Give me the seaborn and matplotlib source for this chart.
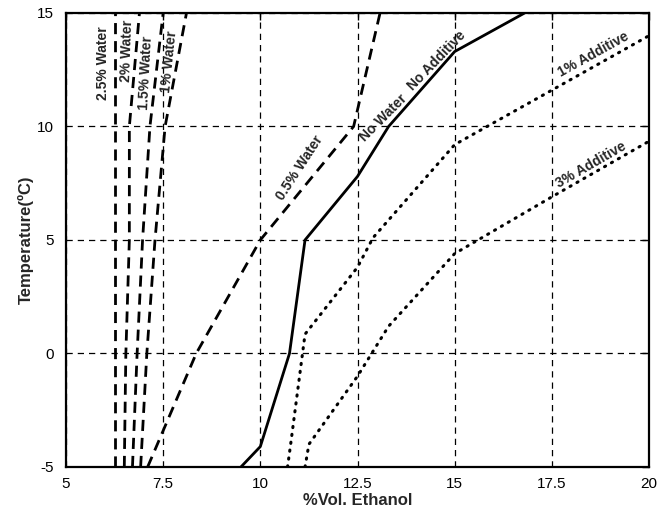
import matplotlib
matplotlib.use("Agg")
import matplotlib.pyplot as plt
import seaborn as sns

sns.set_style("white")
plt.rcParams['font.family'] = ['Liberation Sans', 'DejaVu Sans']

# temperatures for water curves
water_temp = [-5, 0, 5, 10, 15]
water25_x = [6.27, 6.27, 6.27, 6.27, 6.27]
water2_x = [6.50, 6.54, 6.63, 6.63, 6.89]
water15_x = [6.71, 6.83, 6.97, 7.16, 7.50]
water1_x = [6.92, 7.08, 7.29, 7.55, 8.10]
water05_x = [7.10, 8.35, 10.0, 12.4, 13.08]

noadd_x = [9.5, 10.0, 10.75, 11.15, 12.5, 13.3, 15.0, 16.8]
noadd_y = [-5, -4.1, 0, 5, 7.8, 10, 13.3, 15]

add1_x = [10.7, 10.78, 11.15, 12.5, 12.9, 15.0, 17.5, 20.0]
add1_y = [-5, -4, 0.85, 3.8, 5.1, 9.2, 11.6, 14.0]

add3_x = [11.15, 11.25, 12.5, 13.3, 15.0, 17.5, 20.0]
add3_y = [-5, -4, -1, 1.2, 4.4, 6.9, 9.35]

x_ticks = [5, 7.5, 10, 12.5, 15, 17.5, 20]
x_tick_labels = ["5", "7.5", "10", "12.5", "15", "17.5", "20"]
y_ticks = [-5, 0, 5, 10, 15]
y_tick_labels = ["-5", "0", "5", "10", "15"]

fig = plt.figure(figsize=(6.72, 5.19), dpi=100)
ax = fig.add_axes([0.0982, 0.1002, 0.8676, 0.8748])

dash = (4, 2.5)
for xs in [water25_x, water2_x, water15_x, water1_x, water05_x]:
    sns.lineplot(x=xs, y=water_temp, sort=False, estimator=None, ax=ax,
                 color="black", linewidth=2, dashes=False)
    ax.lines[-1].set_dashes(dash)

sns.lineplot(x=noadd_x, y=noadd_y, sort=False, estimator=None, ax=ax,
             color="black", linewidth=2)
for xs, ys in [(add1_x, add1_y), (add3_x, add3_y)]:
    sns.lineplot(x=xs, y=ys, sort=False, estimator=None, ax=ax,
                 color="black", linewidth=2.2)
    ax.lines[-1].set_dashes((0.4, 2.2))
    ax.lines[-1].set_dash_capstyle("round")

ax.set_xlim(5, 20)
ax.set_ylim(-5, 15)
ax.set_xticks(x_ticks)
ax.set_xticklabels(x_tick_labels)
ax.set_yticks(y_ticks)
ax.set_yticklabels(y_tick_labels)
ax.grid(True, color="black", linestyle=(0, (5, 4)), linewidth=0.9)
ax.tick_params(direction="in", length=5, labelsize=11, colors="black",
               top=True, right=True, width=1)
ax.tick_params(axis="x", pad=7)
ax.tick_params(axis="y", pad=9)
for s in ax.spines.values():
    s.set_color("black")
    s.set_linewidth(1.6)

ax.set_xlabel("%Vol. Ethanol", fontsize=12, fontweight="bold", labelpad=2)
ax.set_ylabel("Temperature(ºC)", fontsize=12, fontweight="bold", labelpad=2)

def put(txt, px, py, rot):
    fig.text(px / 672, 1 - py / 519, txt, rotation=rot, fontsize=10,
             fontweight="bold", ha="center", va="center", rotation_mode="anchor")

put("2.5% Water", 103, 63, 90)
put("2% Water", 127, 51, 88)
put("1.5% Water", 146, 73, 87)
put("1% Water", 169, 62, 84)
put("0.5% Water", 300, 168, 57)
put("No Water", 383, 118, 45)
put("No Additive", 437, 61, 46)
put("1% Additive", 593, 54, 29)
put("3% Additive", 591, 165, 30)

fig.savefig("out.png", dpi=100)
